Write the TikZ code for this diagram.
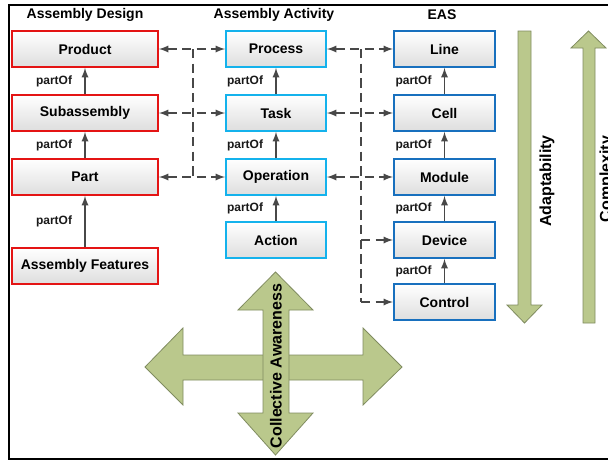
\documentclass[tikz,border=0pt]{standalone}
\usepackage{fontspec}
\setmainfont{Liberation Sans}
\usetikzlibrary{positioning}
\usetikzlibrary{arrows.meta}
\definecolor{designred}{RGB}{228,20,20}
\definecolor{activityblue}{RGB}{20,178,236}
\definecolor{easblue}{RGB}{24,112,190}
\definecolor{linkgray}{RGB}{72,72,72}
\definecolor{olivefill}{RGB}{186,200,140}
\definecolor{olivedraw}{RGB}{128,140,96}
\tikzset{
    box/.style = {rectangle, line width=1.4pt, top color=white, bottom color=black!13, minimum height=27pt, inner sep=2pt, font=\fontsize{10.5}{12}\selectfont\bfseries},
    boxd/.style = {box, draw=designred, minimum width=109.5pt},
    boxa/.style = {box, draw=activityblue, minimum width=75pt},
    boxe/.style = {box, draw=easblue, minimum width=76pt},
    head/.style = {font=\fontsize{10.5}{12}\selectfont\bfseries},
    partof/.style = {left=8pt, inner sep=1pt, text=black!90, font=\fontsize{9}{10}\selectfont\bfseries},
    bigtext/.style = {rotate=90, font=\fontsize{12}{14}\selectfont\bfseries},
    bigarrow/.style = {fill=olivefill, draw=olivedraw, line width=0.6pt},
    edgep/.style = {-latex, line width=1.4pt, linkgray},
    edged/.style = {latex-latex, line width=1.4pt, linkgray, dash pattern=on 7pt off 4pt}, % both ways
    edgedr/.style = {-latex, line width=1.4pt, linkgray, dash pattern=on 7pt off 4pt}, % from bus
    edgebus/.style = {line width=1.4pt, linkgray, dash pattern=on 7pt off 4pt}
}
\begin{document}
\begin{tikzpicture}[x=0.75pt, y=-0.75pt]
\useasboundingbox (0,0) rectangle (608,461);
%
\node[head] (hdesign) at (85,15) {Assembly Design};
\node[head] (hactivity) at (274,15) {Assembly Activity};
\node[head] (heas) at (442,15) {EAS};
%
\node[boxd] at (85,49) (product) {Product};
\node[boxd] at (85,113) (subassembly) {Subassembly};
\node[boxd] at (85,177) (part) {Part};
\node[boxd] at (85,266) (features) {Assembly Features};
%
\node[boxa] at (276,49) (process) {Process};
\node[boxa] at (276,113) (task) {Task};
\node[boxa] at (276,177) (operation) {Operation};
\node[boxa] at (276,240) (action) {Action};
%
\node[boxe] at (444.5,49) (line) {Line};
\node[boxe] at (444.5,113) (cell) {Cell};
\node[boxe] at (444.5,177) (module) {Module};
\node[boxe] at (444.5,240) (device) {Device};
\node[boxe] at (444.5,302) (control) {Control};
%
\draw[edgep] (subassembly) edge node[partof] {partOf} (product);
\draw[edgep] (part) edge node[partof] {partOf} (subassembly);
\draw[edgep] (features) edge node[partof] {partOf} (part);
\draw[edgep] (task) edge node[partof] {partOf} (process);
\draw[edgep] (operation) edge node[partof] {partOf} (task);
\draw[edgep] (action) edge node[partof] {partOf} (operation);
\draw[edgep] (cell) edge node[partof] {partOf} (line);
\draw[edgep] (module) edge node[partof] {partOf} (cell);
\draw[edgep] (device) edge node[partof] {partOf} (module);
\draw[edgep] (control) edge node[partof] {partOf} (device);
%
\coordinate (busa1) at (193,49);
\coordinate (busa2) at (193,177);
\coordinate (busb1) at (361,49);
\coordinate (busb2) at (361,240);
\coordinate (busb3) at (361,302);
\draw[edgebus] (busa1) -- (busa2);
\draw[edgebus] (busb1) -- (busb3);
\draw[edged] (product) edge (process);
\draw[edged] (subassembly) edge (task);
\draw[edged] (part) edge (operation);
\draw[edged] (process) edge (line);
\draw[edged] (task) edge (cell);
\draw[edged] (operation) edge (module);
\draw[edgedr] (busb2) -- (device);
\draw[edgedr] (busb3) -- (control);
%
\draw[bigarrow] (518,31) -- (531,31) -- (531,305) -- (542,305) -- (524.5,323) -- (507,305) -- (518,305) -- cycle;
\draw[bigarrow] (588.5,31) -- (606,48) -- (595,48) -- (595,323) -- (583,323) -- (583,48) -- (571,48) -- cycle;
\node[bigtext] (adapt) at (547,181) {Adaptability};
\node[bigtext] (complex) at (607,179) {Complexity};
%
\draw[bigarrow] (145,367) -- (183,328) -- (183,355) -- (363,355) -- (363,328) -- (402,367) -- (363,405) -- (363,380) -- (183,380) -- (183,405) -- cycle;
\draw[bigarrow] (275.5,272) -- (313,310) -- (289,310) -- (289,413) -- (313,413) -- (275.5,455) -- (238,413) -- (263,413) -- (263,310) -- (238,310) -- cycle;
\node[bigtext] (aware) at (276,366) {Collective Awareness};
%
\draw[line width=2.2pt] (612,5) -- (9,5) -- (9,459) -- (612,459);

\end{tikzpicture}
\end{document}
